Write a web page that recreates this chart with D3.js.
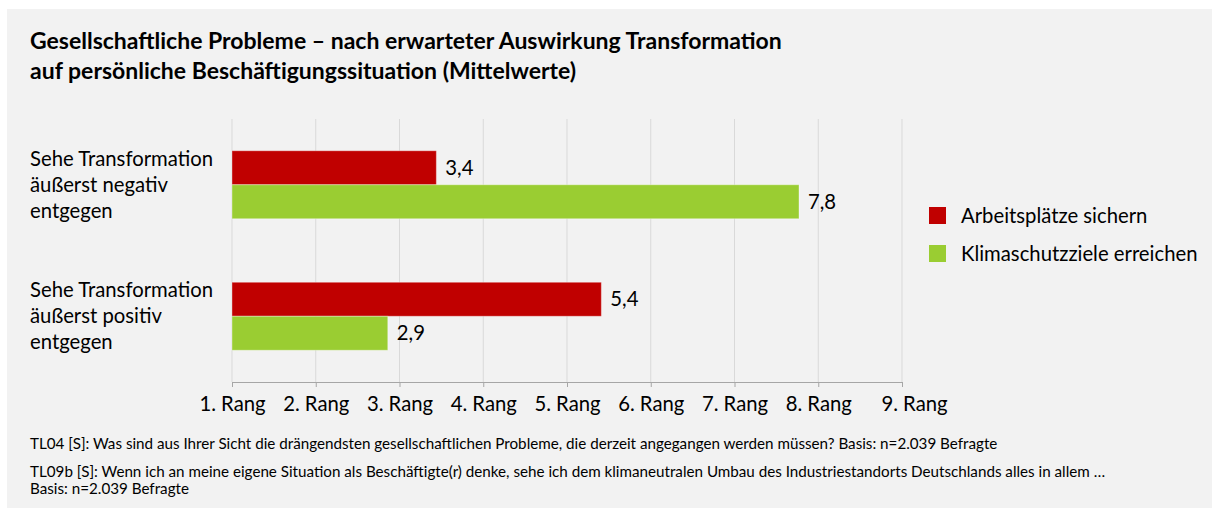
<!DOCTYPE html>
<html>
<head>
<meta charset="utf-8">
<script src="https://cdn.jsdelivr.net/npm/d3@7"></script>
<style>
  body { margin: 0; background: #fff; }
  svg text { font-family: Lato, "Open Sans", sans-serif; fill: #000; }
</style>
</head>
<body>
<svg id="chart" width="1212" height="509"></svg>
<script>
const titleLines = [
  'Gesellschaftliche Probleme – nach erwarteter Auswirkung Transformation',
  'auf persönliche Beschäftigungssituation (Mittelwerte)'
];
const categories = ['negativ', 'positiv'];
const categoryLabels = [
  ['Sehe Transformation', 'äußerst negativ', 'entgegen'],
  ['Sehe Transformation', 'äußerst positiv', 'entgegen']
];
const seriesNames = ['Arbeitsplätze sichern', 'Klimaschutzziele erreichen'];
const arbeitsplaetze = [3.44, 5.41];
const klimaschutz = [7.77, 2.86];
const tickValues = [1, 2, 3, 4, 5, 6, 7, 8, 9];
const tickLabels = ['1. Rang', '2. Rang', '3. Rang', '4. Rang', '5. Rang', '6. Rang', '7. Rang', '8. Rang', '9. Rang'];
const footnotes = [
  'TL04 [S]: Was sind aus Ihrer Sicht die drängendsten gesellschaftlichen Probleme, die derzeit angegangen werden müssen? Basis: n=2.039 Befragte',
  'TL09b [S]: Wenn ich an meine eigene Situation als Beschäftigte(r) denke, sehe ich dem klimaneutralen Umbau des Industriestandorts Deutschlands alles in allem …',
  'Basis: n=2.039 Befragte'
];

const COLORS = ['#c00000', '#9acd32'];
const seriesValues = [arbeitsplaetze, klimaschutz];

const svg = d3.select('#chart');

// Panel background
svg.append('rect')
  .attr('x', 7).attr('y', 9)
  .attr('width', 1205).attr('height', 499)
  .attr('fill', '#f2f2f2');

// Title
svg.append('g').selectAll('text')
  .data(titleLines)
  .enter().append('text')
  .attr('x', 30)
  .attr('y', (d, i) => 49 + i * 30)
  .attr('font-size', '23px')
  .attr('font-weight', 'bold')
  .text(d => d);

// Scales
const x = d3.scaleLinear().domain([1, 9]).range([232, 902]);
const y0 = d3.scaleBand().domain(categories).range([119, 382])
  .paddingInner(0.483).paddingOuter(0.2415);
const y1 = d3.scaleBand().domain(d3.range(seriesNames.length)).range([0, y0.bandwidth()]);

// Gridlines
svg.append('g').selectAll('line')
  .data(tickValues)
  .enter().append('line')
  .attr('x1', d => x(d)).attr('x2', d => x(d))
  .attr('y1', 119).attr('y2', 382)
  .attr('stroke', '#d9d9d9')
  .attr('stroke-width', 1);

// Axis
const axis = d3.axisBottom(x)
  .tickValues(tickValues)
  .tickFormat((d, i) => tickLabels[i])
  .tickSizeInner(5)
  .tickSizeOuter(0)
  .tickPadding(10);

const axisG = svg.append('g')
  .attr('transform', 'translate(0,382)')
  .call(axis);
axisG.select('.domain').attr('stroke', '#a6a6a6');
axisG.selectAll('.tick line').attr('stroke', '#a6a6a6');
axisG.selectAll('.tick text')
  .attr('font-size', '20.3px')
  .attr('font-family', 'Lato, "Open Sans", sans-serif')
  .attr('fill', '#000')
  // last label sits a bit to the right, as in the original
  .attr('dx', (d, i) => i === tickValues.length - 1 ? 12 : 0);

// Bars
const rows = [];
categories.forEach((c, ci) => {
  seriesValues.forEach((vals, si) => {
    rows.push({ cat: c, s: si, value: vals[ci] });
  });
});

const bars = svg.append('g').selectAll('g')
  .data(rows)
  .enter().append('g')
  .attr('transform', d => `translate(0,${y0(d.cat) + y1(d.s)})`);

bars.append('rect')
  .attr('x', x(1))
  .attr('y', 0)
  .attr('width', d => x(d.value) - x(1))
  .attr('height', y1.bandwidth())
  .attr('fill', d => COLORS[d.s])
  .attr('stroke', 'rgba(255,255,255,0.35)')
  .attr('stroke-width', 1);

bars.append('text')
  .attr('x', d => x(d.value) + 9)
  .attr('y', y1.bandwidth() / 2)
  .attr('dy', '0.35em')
  .attr('font-size', '20.3px')
  .text(d => d3.format('.1f')(d.value).replace('.', ','));

// Category labels
const catG = svg.append('g').selectAll('g')
  .data(categories)
  .enter().append('g')
  .attr('transform', d => `translate(30,${y0(d) + y0.bandwidth() / 2})`);

catG.selectAll('text')
  .data((d, i) => categoryLabels[i])
  .enter().append('text')
  .attr('x', 0)
  .attr('y', (d, i) => (i - 1) * 26)
  .attr('dy', '0.35em')
  .attr('font-size', '20.3px')
  .text(d => d);

// Legend
const legend = svg.append('g').selectAll('g')
  .data(seriesNames)
  .enter().append('g')
  .attr('transform', (d, i) => `translate(929,${207 + i * 38})`);

legend.append('rect')
  .attr('width', 17).attr('height', 17)
  .attr('fill', (d, i) => COLORS[i]);

legend.append('text')
  .attr('x', 32)
  .attr('y', 8.5)
  .attr('dy', '0.35em')
  .attr('font-size', '20.3px')
  .text(d => d);

// Footnotes
svg.append('g').selectAll('text')
  .data(footnotes)
  .enter().append('text')
  .attr('x', 30)
  .attr('y', (d, i) => [449, 477, 494][i])
  .attr('font-size', '15.2px')
  .attr('fill', '#262626')
  .text(d => d);
</script>
</body>
</html>
